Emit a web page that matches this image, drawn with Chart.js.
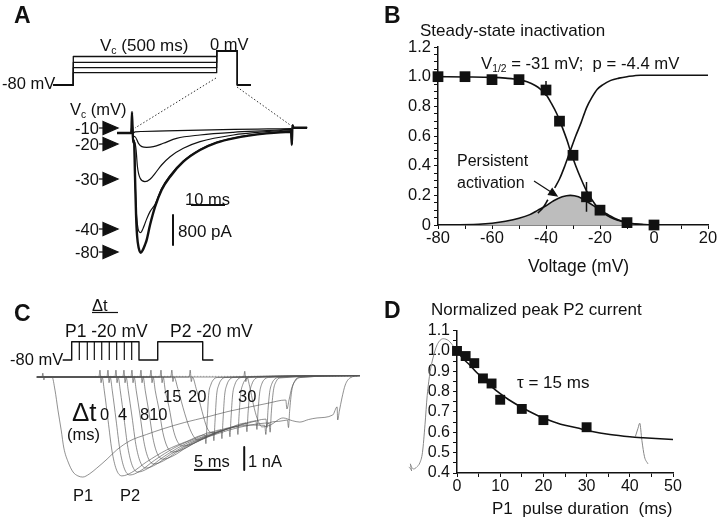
<!DOCTYPE html>
<html>
<head>
<meta charset="utf-8">
<script src="https://cdn.jsdelivr.net/npm/chart.js@4.4.0/dist/chart.umd.min.js"></script>
<style>
  html, body { margin: 0; padding: 0; background: #fff; }
  #fig { position: relative; width: 720px; height: 520px; overflow: hidden;
         font-family: "Liberation Sans", Arial, sans-serif; color: #111; }
  #fig canvas { position: absolute; }
  .t { position: absolute; white-space: nowrap; line-height: 1; }
  .t sub { font-size: 0.62em; vertical-align: -0.3em; line-height: 0; }
</style>
</head>
<body>
<div id="fig">
  <canvas id="protoA" width="230" height="70" style="left:40px;top:30px"></canvas>
  <canvas id="tracesA" width="205" height="160" style="left:110px;top:100px"></canvas>
  <canvas id="chartB" width="350" height="250" style="left:370px;top:30px"></canvas>
  <canvas id="protoC" width="165" height="30" style="left:55px;top:335px"></canvas>
  <canvas id="tracesC" width="332" height="120" style="left:30px;top:365px"></canvas>
  <canvas id="chartD" width="340" height="202" style="left:380px;top:318px"></canvas>

  <svg width="720" height="520" style="position:absolute;left:0;top:0">
    <g fill="#111" stroke="#111" stroke-width="1.2">
      <line x1="99" y1="128" x2="104" y2="128"/><polygon points="103,121.5 118,128 103,134.5"/>
      <line x1="99" y1="144" x2="104" y2="144"/><polygon points="103,137.5 118,144 103,150.5"/>
      <line x1="99" y1="179" x2="104" y2="179"/><polygon points="103,172.5 118,179 103,185.5"/>
      <line x1="99" y1="229" x2="104" y2="229"/><polygon points="103,222.5 118,229 103,235.5"/>
      <line x1="99" y1="252" x2="104" y2="252"/><polygon points="103,245.5 118,252 103,258.5"/>
      <line x1="534" y1="181" x2="551" y2="192"/><polygon points="557,196 548.4,194.5 552.2,188.7"/>
      <line x1="92" y1="312.5" x2="118" y2="312.5"/>
    </g>
    <g stroke="#333" stroke-width="1" stroke-dasharray="1.5 2">
      <line x1="216" y1="78" x2="135" y2="128"/>
      <line x1="237" y1="87" x2="293" y2="127"/>
    </g>
  </svg>
</div>

<script>
// ---- A: voltage protocol (schematic, mV) ----
const protoA_levels = [-13, -27, -39, -51];
const protoA_times = [-70, 0, 500, 572, 619];   // hold, step on, step off / test on, test off, end

// ---- A: currents (t in ms, I in pA) ----
const traceA_m80 = [[-4.4,0],[-0.2,0],[0,560],[0.3,-250],[0.6,-200],[0.9,-1200],[1.2,-2200],[1.5,-2750],[2.0,-3080],[2.6,-3200],[3.2,-3120],[3.8,-2990],[4.3,-2860],[5.3,-2456],[6.8,-1967],[8.7,-1522],[11.2,-1166],[15.1,-766],[20,-454],[24.9,-258],[29.8,-142],[39.6,-9],[46.8,35],[47,-320],[47.2,210],[47.5,140],[51.5,140]];
const traceA_m40 = [[-4.4,0],[-0.2,0],[0,400],[0.3,-250],[0.6,-200],[0.9,-1150],[1.2,-2000],[1.6,-2450],[2.0,-2620],[2.6,-2660],[3.2,-2560],[3.8,-2420],[4.3,-2300],[5.3,-2100],[6.8,-1900],[8.7,-1480],[11.2,-1130],[15.1,-745],[20,-440],[24.9,-250],[29.8,-135],[39.6,-5],[46.8,45],[47,-300],[47.2,200],[47.5,140],[51.5,140]];
const traceA_m30 = [[-4.4,0],[-0.2,0],[0,400],[0.3,-150],[0.8,-250],[1.2,-450],[1.6,-900],[2.4,-1210],[3.8,-1300],[5.3,-1236],[6.8,-1076],[8.7,-854],[11.2,-632],[15.1,-409],[20,-231],[29.8,-53],[39.6,35],[46.8,80],[47,-300],[47.2,200],[47.5,140],[51.5,140]];
const traceA_m20 = [[-4.4,0],[-0.2,0],[0,400],[0.3,-60],[0.9,-100],[1.9,-275],[2.9,-365],[4.3,-383],[6.3,-365],[9.2,-275],[13.1,-142],[20,-53],[29.8,18],[39.6,62],[46.8,95],[47,-300],[47.2,200],[47.5,140],[51.5,140]];
const traceA_m10 = [[-4.4,0],[-0.2,0],[0,400],[0.3,0],[0.9,30],[3,40],[10,55],[20,75],[30,95],[40,110],[46.8,120],[47,-250],[47.2,200],[47.5,140],[51.5,140]];

// ---- B: steady-state inactivation ----
const inactV = [-80, -70, -60, -50, -40, -35, -30, -25, -20, -10, 0];
const inactMean = [1.0, 1.0, 0.98, 0.98, 0.91, 0.70, 0.47, 0.19, 0.10, 0.016, 0.0];
const errV = [-40, -25];
const errLow = [0.87, 0.09];
const errHigh = [0.97, 0.29];
const inactFitV = [-80,-70,-60,-55,-50,-47,-44,-42,-40,-38,-36,-34,-32,-31,-29,-27,-25,-23,-21,-19,-16,-13,-10,-5,0,20];
const inactFitY = [1.0,0.998,0.995,0.99,0.98,0.965,0.94,0.915,0.88,0.82,0.75,0.66,0.56,0.5,0.4,0.31,0.23,0.17,0.12,0.085,0.05,0.03,0.015,0.005,0.0,0.0];
const actFitV = [-43,-41,-39.3,-38,-36.8,-35,-33,-31,-29,-27,-25,-23,-21,-19,-16,-13,-10,-5,0,10,20];
const actFitY = [0.08,0.12,0.17,null,0.25,0.31,0.40,0.5,0.6,0.69,0.79,0.86,0.915,0.945,0.975,0.99,1.0,1.01,1.01,1.01,1.01];
const persistV = [-80,-65,-60,-55,-50,-46,-43,-40,-37,-34,-31,-28,-25,-22,-20,-17,-14,-11,-8,-4,0,20];
const persistY = [0,0.005,0.012,0.025,0.045,0.07,0.1,0.13,0.165,0.19,0.2,0.19,0.16,0.125,0.1,0.07,0.04,0.02,0.008,0.002,0,0];

// ---- C: two-pulse protocol (schematic) ----
const protoC_p1Ends = [1.41, 2.89, 4.19, 5.56, 6.96, 8.33, 9.74, 11.11, 12.46];
const protoC_p2 = [15.93, 24.26];
const protoC_span = [-1.67, 26.22];

// ---- C: sweeps (t in ms, I in nA) ----
const cSweepP1 = [[-2.8,0],[-1.85,0],[-1.7,0.17],[-1.5,-0.13],[-1.3,0],[0,0],[0.56,-0.57],[1.1,-1.43],[1.7,-2.3],[2.2,-3.09],[3.0,-3.7],[3.9,-4.13],[4.8,-4.3],[5.7,-4.35],[6.9,-4.22],[8.3,-3.96],[10.2,-3.57],[12.0,-3.17],[14.4,-2.78],[17.5,-2.5],[20.6,-2.25],[24.5,-1.98],[28.7,-1.74],[32.6,-1.5],[36.7,-1.3],[40,-1.14],[43.3,-1.0],[43.5,-1.39],[43.9,-1.0],[44.4,-0.48],[45.2,-0.13],[46.1,-0.02],[57,0.06]];
const cSweep1 = [[-2.8,0],[8.69,0],[8.89,0.3],[9.09,-0.25],[9.29,0],[9.69,-0.6],[10.39,-1.89],[11.09,-3.18],[11.89,-4.0],[12.96,-4.3],[14.76,-4.15],[17.46,-3.7],[21.26,-3.17],[24.96,-2.8],[28.33,-2.52],[28.5,-2.9],[28.7,-2.1],[29.0,-0.8],[29.4,-0.35],[30.0,-0.09],[30.7,-0.02],[57,0.06]];
const cSweep2 = [[-2.8,0],[10.17,0],[10.37,0.3],[10.57,-0.25],[10.77,0],[11.17,-0.6],[11.87,-1.87],[12.57,-3.15],[13.37,-3.96],[14.44,-4.26],[16.24,-4.1],[18.94,-3.63],[22.74,-3.07],[26.44,-2.68],[29.81,-2.39],[29.98,-2.77],[30.18,-1.97],[30.48,-0.8],[30.88,-0.35],[31.48,-0.09],[32.18,-0.02],[57,0.06]];
const cSweep3 = [[-2.8,0],[11.65,0],[11.85,0.3],[12.05,-0.25],[12.25,0],[12.65,-0.6],[13.35,-1.82],[14.05,-3.06],[14.85,-3.84],[15.92,-4.13],[17.72,-3.98],[20.42,-3.51],[24.22,-2.97],[27.92,-2.59],[31.3,-2.3],[31.47,-2.68],[31.67,-1.88],[31.97,-0.8],[32.37,-0.35],[32.97,-0.09],[33.67,-0.02],[57,0.06]];
const cSweep4 = [[-2.8,0],[13.13,0],[13.33,0.3],[13.53,-0.25],[13.73,0],[14.13,-0.6],[14.83,-1.74],[15.53,-2.93],[16.33,-3.68],[17.4,-3.96],[19.2,-3.81],[21.9,-3.37],[25.7,-2.86],[29.4,-2.49],[32.78,-2.22],[32.95,-2.6],[33.15,-1.8],[33.45,-0.78],[33.85,-0.34],[34.45,-0.09],[35.15,-0.02],[57,0.06]];
const cSweep5 = [[-2.8,0],[14.61,0],[14.81,0.3],[15.01,-0.25],[15.21,0],[15.61,-0.6],[16.31,-1.66],[17.01,-2.8],[17.81,-3.52],[18.88,-3.78],[20.68,-3.64],[23.38,-3.22],[27.18,-2.73],[30.88,-2.39],[34.26,-2.13],[34.43,-2.5],[34.63,-1.72],[34.93,-0.75],[35.33,-0.33],[35.93,-0.09],[36.63,-0.02],[57,0.06]];
const cSweep6 = [[-2.8,0],[16.28,0],[16.48,0.3],[16.68,-0.25],[16.88,0],[17.28,-0.6],[17.98,-1.57],[18.68,-2.64],[19.48,-3.32],[20.55,-3.57],[22.35,-3.44],[25.05,-3.04],[28.85,-2.57],[32.55,-2.25],[35.93,-2.0],[36.1,-2.38],[36.3,-1.6],[36.6,-0.72],[37.0,-0.32],[37.6,-0.08],[38.3,-0.02],[57,0.06]];
const cSweep7 = [[-2.8,0],[18.13,0],[18.33,0.3],[18.53,-0.25],[18.73,0],[19.13,-0.6],[19.83,-1.43],[20.53,-2.41],[21.33,-3.03],[22.4,-3.26],[24.2,-3.15],[26.9,-2.81],[30.7,-2.4],[34.4,-2.12],[37.78,-1.91],[37.95,-2.28],[38.15,-1.52],[38.45,-0.7],[38.85,-0.3],[39.45,-0.08],[40.15,-0.02],[57,0.06]];
const cSweep8 = [[-2.8,0],[19.99,0],[20.19,0.3],[20.39,-0.25],[20.59,0],[20.99,-0.6],[21.69,-1.32],[22.39,-2.22],[23.19,-2.79],[24.26,-3.0],[26.06,-2.9],[28.76,-2.61],[32.56,-2.26],[36.26,-2.01],[39.63,-1.83],[39.8,-2.2],[40.0,-1.45],[40.3,-0.68],[40.7,-0.3],[41.3,-0.08],[42.0,-0.02],[57,0.06]];
const cSweep15 = [[-2.8,0],[22.0,0],[22.2,0.3],[22.4,-0.2],[22.6,0],[23.3,-0.5],[24.6,-1.6],[25.8,-2.4],[27.0,-2.74],[29.3,-2.57],[32.9,-2.3],[36.7,-2.09],[40.2,-2.0],[40.4,-2.4],[40.6,-1.6],[41.0,-0.6],[41.5,-0.2],[42.2,-0.04],[57,0.06]];
const cSweep20 = [[-2.8,0],[25.4,0],[25.6,0.3],[25.8,-0.2],[26.0,0],[26.7,-0.5],[27.8,-1.5],[28.7,-2.2],[29.6,-2.43],[33.0,-2.22],[36.7,-2.09],[39.4,-2.1],[39.6,-2.5],[39.8,-2.05],[42.0,-1.93],[43.6,-1.87],[43.8,-2.2],[44.0,-1.5],[44.4,-0.6],[45.0,-0.15],[45.8,-0.02],[57,0.06]];
const cSweep30 = [[-2.8,0],[35.5,0],[35.7,0.25],[35.9,-0.2],[36.1,0],[36.6,-0.4],[37.3,-1.2],[38.0,-1.8],[38.9,-2.17],[40.4,-2.09],[42.8,-1.78],[44.5,-1.9],[45.9,-1.96],[47.5,-1.85],[49.1,-1.78],[52.0,-1.65],[52.8,-1.3],[52.9,-1.87],[53.2,-1.5],[53.7,-0.91],[54.3,-0.35],[55.2,-0.04],[57,0.06]];

// ---- D: normalized peak P2 current ----
const durX = [0, 2, 4, 6, 8, 10, 15, 20, 30];
const p2Norm = [1.0, 0.975, 0.94, 0.865, 0.84, 0.76, 0.715, 0.66, 0.625];
const fitX = [0,1.5,3,4.5,6,8,10,12,14.6,17,20,24,27.7,31,35.4,40,43.1,47,50];
const fitY = [1.0,0.96,0.93,0.895,0.865,0.825,0.79,0.76,0.727,0.7,0.67,0.64,0.622,0.605,0.589,0.578,0.573,0.568,0.565];
const greyLeftX = [-11.2,-10.5,-10.8,-10.0,-9.3,-8.6,-8.0,-7.4,-6.9,-6.2,-5.5,-4.6,-3.2,-1.9,-0.9,0];
const greyLeftY = [0.43,0.41,0.445,0.42,0.43,0.45,0.5,0.64,0.78,0.9,0.97,1.03,1.06,1.05,1.025,1.0];
const greyRightX = [41.3, 41.9, 42.3, 42.8, 43.4, 44.2];
const greyRightY = [0.58, 0.62, 0.645, 0.56, 0.48, 0.445];

Chart.defaults.font.family = '"Liberation Sans", Arial, sans-serif';
Chart.defaults.color = '#111';

const xy = arr => arr.map(p => ({x: p[0], y: p[1]}));
const pairs = (xs, ys) => xs.map((x, i) => ({x: x, y: ys[i]}));
const vbars = (xs, lo, hi) => xs.flatMap((x, i) => [{x: x, y: lo[i]}, {x: x, y: hi[i]}, {x: x, y: null}]);

const line = (data, color, width, smooth) => ({
    data: data, borderColor: color, borderWidth: width, pointRadius: 0, fill: false,
    tension: 0, cubicInterpolationMode: smooth ? 'monotone' : 'default'
});

function bareOptions(xmin, xmax, ymin, ymax) {
    return {
        responsive: false, animation: false, events: [], devicePixelRatio: 1,
        layout: { padding: 0 },
        plugins: { legend: { display: false }, tooltip: { enabled: false } },
        elements: { point: { radius: 0 }, line: { borderJoinStyle: 'round' } },
        scales: {
            x: { type: 'linear', display: false, min: xmin, max: xmax },
            y: { type: 'linear', display: false, min: ymin, max: ymax }
        }
    };
}

function axis(min, max, step, fmt, pad, size, fit) {
    return {
        type: 'linear', min: min, max: max,
        ticks: { stepSize: step, autoSkip: false, maxRotation: 0, padding: pad, color: '#111',
                 font: { size: size }, callback: fmt },
        grid: { drawOnChartArea: false, drawTicks: true, tickLength: 4, color: '#111', lineWidth: 1 },
        border: { display: true, color: '#111', width: 1.5 },
        afterFit: fit
    };
}

function chartOptions(x, y, padding) {
    return {
        responsive: false, animation: false, events: [], devicePixelRatio: 1,
        layout: { padding: padding },
        plugins: { legend: { display: false }, tooltip: { enabled: false } },
        scales: { x: x, y: y }
    };
}

// A: protocol
const protoA_sets = protoA_levels.map(L => {
    const [t0, t1, t2, t3, t4] = protoA_times;
    return line([{x:t0,y:-80},{x:t1,y:-80},{x:t1,y:L},{x:t2,y:L},{x:t2,y:0},{x:t3,y:0},{x:t3,y:-80},{x:t4,y:-80}], '#111', 1.3, false);
});
new Chart(document.getElementById('protoA'), {
    type: 'line',
    data: { datasets: protoA_sets },
    options: bareOptions(-116.1, 685.9, -115.3, 49.4)
});

// A: currents, with 10 ms / 800 pA scale bars
new Chart(document.getElementById('tracesA'), {
    type: 'line',
    data: { datasets: [
        line(xy(traceA_m80), '#111', 2.4, true),
        line(xy(traceA_m40), '#111', 1.2, true),
        line(xy(traceA_m30), '#111', 1.2, true),
        line(xy(traceA_m20), '#111', 1.2, true),
        line(xy(traceA_m10), '#111', 1.2, true),
        line([{x:17.35,y:-1922},{x:27.35,y:-1922}], '#111', 2, false),
        line([{x:12.06,y:-2189},{x:12.06,y:-2989}], '#111', 2, false)
    ] },
    options: bareOptions(-6.47, 53.82, -3391, 881)
});

// B
const fmtB = v => { const k = Math.round(v * 100); return k % 20 ? '' : (k === 0 ? '0' : (k / 100).toFixed(1)); };
new Chart(document.getElementById('chartB'), {
    type: 'line',
    data: { datasets: [
        { data: pairs(inactV, inactMean), showLine: false, pointStyle: 'rect', pointRadius: 7.6,
          pointBackgroundColor: '#111', pointBorderColor: '#111', pointBorderWidth: 0, clip: false },
        line(vbars(errV, errLow, errHigh), '#111', 1.5, false),
        line(pairs(inactFitV, inactFitY), '#111', 1.6, true),
        line(pairs(actFitV, actFitY), '#111', 1.6, true),
        Object.assign(line(pairs(persistV, persistY), '#111', 1.6, true),
                      { fill: 'origin', backgroundColor: '#bdbdbd' })
    ] },
    options: chartOptions(
        axis(-80, 20, 10, v => v % 20 === 0 ? String(v) : '', 0, 16.5, s => { s.height = 55; }),
        axis(0, 1.2, 0.05, fmtB, 3, 16.5, s => { s.width = 68; }),
        { top: 17, right: 12, left: 0, bottom: 0 })
});

// C: protocol
const [c0, c1] = protoC_span;
const [p2on, p2off] = protoC_p2;
const p1Last = protoC_p1Ends[protoC_p1Ends.length - 1];
const outlineC = [{x:c0,y:-80},{x:0,y:-80},{x:0,y:-20},{x:p1Last,y:-20},{x:p1Last,y:-80},
                  {x:p2on,y:-80},{x:p2on,y:-20},{x:p2off,y:-20},{x:p2off,y:-80},{x:c1,y:-80}];
const innerC = protoC_p1Ends.slice(0, -1).flatMap(t => [{x:t,y:-80},{x:t,y:-20},{x:t,y:null}]);
new Chart(document.getElementById('protoC'), {
    type: 'line',
    data: { datasets: [ line(outlineC, '#111', 1.4, false), line(innerC, '#111', 1.2, false) ] },
    options: bareOptions(-3.09, 27.46, -96.4, 2.0)
});

// C: sweeps, with 5 ms / 1 nA scale bars
const grey = 'rgba(85,85,85,0.72)';
new Chart(document.getElementById('tracesC'), {
    type: 'line',
    data: { datasets: [
        line([{x:26.3,y:-4.04},{x:31.3,y:-4.04}], '#111', 2, false),
        line([{x:35.6,y:-3.04},{x:35.6,y:-4.04}], '#111', 2, false),
        line(xy(cSweepP1), grey, 0.9, true),
        line(xy(cSweep1), grey, 0.9, true),
        line(xy(cSweep2), grey, 0.9, true),
        line(xy(cSweep3), grey, 0.9, true),
        line(xy(cSweep4), grey, 0.9, true),
        line(xy(cSweep5), grey, 0.9, true),
        line(xy(cSweep6), grey, 0.9, true),
        line(xy(cSweep7), grey, 0.9, true),
        line(xy(cSweep8), grey, 0.9, true),
        line(xy(cSweep15), grey, 0.9, true),
        line(xy(cSweep20), grey, 0.9, true),
        line(xy(cSweep30), grey, 0.9, true),
        Object.assign(line([{x:8,y:0.03},{x:57,y:0.03}], '#999', 0.8, false), { borderDash: [1, 2] })
    ] },
    options: bareOptions(-4.07, 57.41, -4.696, 0.522)
});

// D
const fmtD = v => { const k = Math.round(v * 100); return k % 10 ? '' : (k / 100).toFixed(1); };
new Chart(document.getElementById('chartD'), {
    type: 'line',
    data: { datasets: [
        { data: pairs(durX, p2Norm), showLine: false, pointStyle: 'rect', pointRadius: 7,
          pointBackgroundColor: '#111', pointBorderColor: '#111', pointBorderWidth: 0, clip: false },
        line(pairs(fitX, fitY), '#111', 1.6, true),
        Object.assign(line(pairs(greyLeftX, greyLeftY), '#888', 1, true), { clip: false }),
        Object.assign(line(pairs(greyRightX, greyRightY), '#888', 1, true), { clip: false })
    ] },
    options: chartOptions(
        axis(0, 50, 5, v => v % 10 === 0 ? String(v) : '', 0, 16, s => { s.height = 47; }),
        axis(0.4, 1.1, 0.05, fmtD, 3, 16, s => { s.width = 77; }),
        { top: 11, right: 47, left: 0, bottom: 0 })
});

// text: [html, left, centre y, size, bold]
const notes = [
    ['A', 14, 15, 23, 1],
    ['-80 mV', 2, 83, 16.5],
    ['V<sub>c</sub> (500 ms)', 100, 45, 17],
    ['0 mV', 210, 44, 16.5],
    ['V<sub>c</sub> (mV)', 70, 109, 16.5],
    ['-10', 75, 128, 16.5], ['-20', 75, 144, 16.5], ['-30', 75, 179, 16.5],
    ['-40', 75, 229, 16.5], ['-80', 75, 252, 16.5],
    ['10 ms', 185, 199, 16.5],
    ['800 pA', 178, 231, 17],
    ['B', 384, 15, 23, 1],
    ['Steady-state inactivation', 420, 30, 17],
    ['V<sub>1/2</sub> = -31 mV;&nbsp; p = -4.4 mV', 481, 64, 16.7],
    ['Persistent', 457, 161, 16],
    ['activation', 457, 183, 16],
    ['Voltage (mV)', 528, 267, 17.5],
    ['C', 14, 313, 23, 1],
    ['\u0394t', 92, 305, 16.5],
    ['P1 -20 mV', 65, 332, 17.5],
    ['P2 -20 mV', 170, 332, 17.5],
    ['-80 mV', 10, 359, 16.5],
    ['\u0394t', 72, 412, 26],
    ['(ms)', 67, 434, 16.5],
    ['0', 100, 414, 16.5], ['4', 118, 414, 16.5], ['810', 140, 414, 16.5],
    ['15', 163, 396, 16.5], ['20', 188, 396, 16.5], ['30', 238, 396, 16.5],
    ['5 ms', 194, 461, 16.5],
    ['1 nA', 248, 461, 16.5],
    ['P1', 73, 495, 16.5], ['P2', 120, 495, 16.5],
    ['D', 384, 310, 23, 1],
    ['Normalized peak P2 current', 431, 309, 17],
    ['\u03c4 = 15 ms', 517, 382, 17],
    ['P1&nbsp; pulse duration&nbsp; (ms)', 492, 508, 17]
];
const fig = document.getElementById('fig');
notes.forEach(([html, x, yc, size, bold]) => {
    const d = document.createElement('div');
    d.className = 't';
    d.innerHTML = html;
    d.style.left = x + 'px';
    d.style.top = (yc - 0.49 * size) + 'px';
    d.style.fontSize = size + 'px';
    if (bold) d.style.fontWeight = 'bold';
    fig.appendChild(d);
});
</script>
</body>
</html>
